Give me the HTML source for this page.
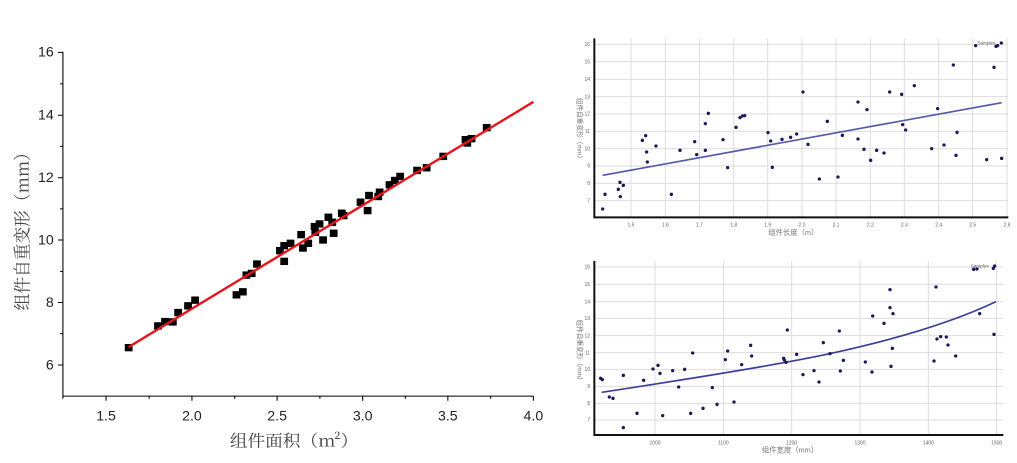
<!DOCTYPE html>
<html><head><meta charset="utf-8"><style>
body{margin:0;width:1017px;height:463px;background:#fff;overflow:hidden;position:relative;font-family:"Liberation Sans","Noto Sans CJK SC",sans-serif}
svg{position:absolute}
</style></head><body>
<svg style="left:0;top:30px" width="550" height="433" viewBox="8 0 1556 1295" preserveAspectRatio="none">
<g stroke="#000" stroke-width="3" fill="none">
<path d="M186 65V1095H1517"/>
<path d="M186 67h-14M186 255h-14M186 442h-14M186 628h-14M186 815h-14M186 1002h-14M186 161h-8M186 348h-8M186 535h-8M186 722h-8M186 908h-8"/>
<path d="M308 1095v14M551 1095v14M792 1095v14M1034 1095v14M1275 1095v14M1517 1095v14M186 1095v8M430 1095v8M672 1095v8M913 1095v8M1155 1095v8M1396 1095v8"/>
</g>
<g font-size="40" fill="#222" text-anchor="end">
<text x="160" y="80">16</text><text x="160" y="268">14</text><text x="160" y="455">12</text><text x="160" y="641">10</text><text x="160" y="828">8</text><text x="160" y="1015">6</text>
</g>
<g font-size="40" fill="#222" text-anchor="middle">
<text x="308" y="1168">1.5</text><text x="551" y="1168">2.0</text><text x="792" y="1168">2.5</text><text x="1034" y="1168">3.0</text><text x="1275" y="1168">3.5</text><text x="1517" y="1168">4.0</text>
</g>
<text x="840" y="1245" font-size="50" fill="#444" text-anchor="middle" font-family="Noto Serif CJK SC,serif">组件面积（m²）</text>
<text transform="translate(88,590) rotate(-90)" font-size="50" fill="#444" text-anchor="middle" font-family="Noto Serif CJK SC,serif">组件自重变形（mm）</text>
<g fill="#000">
<rect x="361" y="939" width="22" height="22"/><rect x="444" y="874" width="22" height="22"/><rect x="464" y="861" width="22" height="22"/><rect x="486" y="862" width="22" height="22"/><rect x="501" y="834" width="22" height="22"/><rect x="529" y="814" width="22" height="22"/><rect x="549" y="797" width="22" height="22"/><rect x="666" y="781" width="22" height="22"/><rect x="684" y="772" width="22" height="22"/><rect x="694" y="722" width="22" height="22"/><rect x="709" y="717" width="22" height="22"/><rect x="724" y="689" width="22" height="22"/><rect x="789" y="649" width="22" height="22"/><rect x="801" y="634" width="22" height="22"/><rect x="801" y="681" width="22" height="22"/><rect x="819" y="627" width="22" height="22"/><rect x="849" y="601" width="22" height="22"/><rect x="854" y="641" width="22" height="22"/><rect x="869" y="627" width="22" height="22"/><rect x="887" y="577" width="22" height="22"/><rect x="889" y="594" width="22" height="22"/><rect x="901" y="569" width="22" height="22"/><rect x="911" y="617" width="22" height="22"/><rect x="926" y="549" width="22" height="22"/><rect x="937" y="564" width="22" height="22"/><rect x="941" y="597" width="22" height="22"/><rect x="964" y="537" width="22" height="22"/><rect x="969" y="544" width="22" height="22"/><rect x="1017" y="504" width="22" height="22"/><rect x="1037" y="529" width="22" height="22"/><rect x="1041" y="484" width="22" height="22"/><rect x="1067" y="487" width="22" height="22"/><rect x="1071" y="474" width="22" height="22"/><rect x="1099" y="452" width="22" height="22"/><rect x="1114" y="439" width="22" height="22"/><rect x="1129" y="427" width="22" height="22"/><rect x="1177" y="409" width="22" height="22"/><rect x="1204" y="401" width="22" height="22"/><rect x="1251" y="367" width="22" height="22"/><rect x="1314" y="317" width="22" height="22"/><rect x="1319" y="327" width="22" height="22"/><rect x="1331" y="314" width="22" height="22"/><rect x="1374" y="281" width="22" height="22"/>
</g>
<line x1="372" y1="948" x2="1517" y2="215" stroke="#e8141a" stroke-width="7"/>
</svg>

<svg style="left:560px;top:30px" width="457" height="215" viewBox="0 0 1371 645">
<g stroke="#ddd" stroke-width="3">
<path d="M103 43H1345M103 95H1345M103 148H1345M103 200H1345M103 252H1345M103 304H1345M103 356H1345M103 408H1345M103 460H1345M103 512H1345"/>
<path d="M213 25V562M316 25V562M418 25V562M521 25V562M623 25V562M726 25V562M828 25V562M931 25V562M1033 25V562M1136 25V562M1238 25V562M1341 25V562"/>
</g>
<path d="M103 25V562H1345" stroke="#111" stroke-width="6" fill="none"/>
<g font-size="15" fill="#666" text-anchor="end">
<text x="90" y="48">16</text><text x="90" y="100">15</text><text x="90" y="153">14</text><text x="90" y="205">13</text><text x="90" y="257">12</text><text x="90" y="309">11</text><text x="90" y="361">10</text><text x="90" y="413">9</text><text x="90" y="465">8</text><text x="90" y="517">7</text>
</g>
<g font-size="15" fill="#666" text-anchor="middle">
<text x="213" y="590">1.5</text><text x="316" y="590">1.6</text><text x="418" y="590">1.7</text><text x="521" y="590">1.8</text><text x="623" y="590">1.9</text><text x="726" y="590">2.0</text><text x="828" y="590">2.1</text><text x="931" y="590">2.2</text><text x="1033" y="590">2.3</text><text x="1136" y="590">2.4</text><text x="1238" y="590">2.5</text><text x="1341" y="590">2.6</text>
</g>
<text x="700" y="615" font-size="22" fill="#777" text-anchor="middle">组件长度（m）</text>
<text transform="translate(52,300) rotate(90)" font-size="20" fill="#777" text-anchor="middle">组件自重变形（mm）</text>
<text x="1252" y="44" font-size="14" fill="#555">Samples</text>
<line x1="128" y1="436" x2="1325" y2="218" stroke="#5558a8" stroke-width="5"/>
<g fill="#1a1a5a">
<circle cx="128" cy="537" r="5"/><circle cx="135" cy="493" r="5"/><circle cx="180" cy="457" r="5"/><circle cx="175" cy="478" r="5"/><circle cx="181" cy="500" r="5"/><circle cx="190" cy="466" r="5"/><circle cx="247" cy="331" r="5"/><circle cx="257" cy="317" r="5"/><circle cx="260" cy="366" r="5"/><circle cx="262" cy="396" r="5"/><circle cx="288" cy="348" r="5"/><circle cx="334" cy="493" r="5"/><circle cx="360" cy="361" r="5"/><circle cx="404" cy="335" r="5"/><circle cx="410" cy="374" r="5"/><circle cx="436" cy="281" r="5"/><circle cx="436" cy="361" r="5"/><circle cx="445" cy="250" r="5"/><circle cx="489" cy="329" r="5"/><circle cx="503" cy="413" r="5"/><circle cx="528" cy="292" r="5"/><circle cx="540" cy="263" r="5"/><circle cx="547" cy="258" r="5"/><circle cx="554" cy="257" r="5"/><circle cx="624" cy="308" r="5"/><circle cx="632" cy="333" r="5"/><circle cx="637" cy="412" r="5"/><circle cx="666" cy="328" r="5"/><circle cx="692" cy="322" r="5"/><circle cx="710" cy="312" r="5"/><circle cx="729" cy="186" r="5"/><circle cx="744" cy="343" r="5"/><circle cx="778" cy="447" r="5"/><circle cx="802" cy="274" r="5"/><circle cx="834" cy="441" r="5"/><circle cx="847" cy="316" r="5"/><circle cx="894" cy="216" r="5"/><circle cx="894" cy="327" r="5"/><circle cx="912" cy="358" r="5"/><circle cx="921" cy="239" r="5"/><circle cx="932" cy="391" r="5"/><circle cx="950" cy="361" r="5"/><circle cx="972" cy="369" r="5"/><circle cx="989" cy="186" r="5"/><circle cx="1025" cy="193" r="5"/><circle cx="1028" cy="284" r="5"/><circle cx="1037" cy="300" r="5"/><circle cx="1063" cy="167" r="5"/><circle cx="1115" cy="356" r="5"/><circle cx="1133" cy="236" r="5"/><circle cx="1152" cy="345" r="5"/><circle cx="1180" cy="105" r="5"/><circle cx="1188" cy="376" r="5"/><circle cx="1191" cy="307" r="5"/><circle cx="1247" cy="47" r="5"/><circle cx="1280" cy="389" r="5"/><circle cx="1302" cy="112" r="5"/><circle cx="1308" cy="49" r="5"/><circle cx="1313" cy="47" r="5"/><circle cx="1324" cy="39" r="5"/><circle cx="1325" cy="385" r="5"/>
</g>
</svg>

<svg style="left:560px;top:255px" width="457" height="208" viewBox="0 0 1371 624">
<g stroke="#ddd" stroke-width="3">
<path d="M103 36H1330M103 88H1330M103 140H1330M103 190H1330M103 242H1330M103 293H1330M103 343H1330M103 394H1330M103 445H1330M103 495H1330"/>
<path d="M285 18V540M490 18V540M695 18V540M900 18V540M1105 18V540M1310 18V540"/>
</g>
<path d="M103 18V540H1330" stroke="#111" stroke-width="6" fill="none"/>
<g font-size="15" fill="#666" text-anchor="end">
<text x="90" y="41">16</text><text x="90" y="93">15</text><text x="90" y="145">14</text><text x="90" y="195">13</text><text x="90" y="247">12</text><text x="90" y="298">11</text><text x="90" y="348">10</text><text x="90" y="399">9</text><text x="90" y="450">8</text><text x="90" y="500">7</text>
</g>
<g font-size="15" fill="#666" text-anchor="middle">
<text x="285" y="568">1000</text><text x="490" y="568">1100</text><text x="695" y="568">1200</text><text x="900" y="568">1300</text><text x="1105" y="568">1400</text><text x="1310" y="568">1500</text>
</g>
<text x="690" y="592" font-size="22" fill="#777" text-anchor="middle">组件宽度（mm）</text>
<text transform="translate(52,290) rotate(90)" font-size="20" fill="#777" text-anchor="middle">组件自重变形（mm）</text>
<text x="1232" y="37" font-size="14" fill="#555">Samples</text>
<path d="M125 412C400 370 650 330 800 298S1150 215 1308 140" stroke="#3c3f98" stroke-width="5" fill="none"/>
<g fill="#1a1a5a">
<circle cx="122" cy="370" r="5"/><circle cx="127" cy="374" r="5"/><circle cx="148" cy="426" r="5"/><circle cx="159" cy="430" r="5"/><circle cx="190" cy="361" r="5"/><circle cx="190" cy="518" r="5"/><circle cx="231" cy="475" r="5"/><circle cx="251" cy="376" r="5"/><circle cx="279" cy="342" r="5"/><circle cx="294" cy="331" r="5"/><circle cx="300" cy="355" r="5"/><circle cx="308" cy="482" r="5"/><circle cx="338" cy="347" r="5"/><circle cx="356" cy="396" r="5"/><circle cx="374" cy="343" r="5"/><circle cx="392" cy="475" r="5"/><circle cx="398" cy="294" r="5"/><circle cx="429" cy="460" r="5"/><circle cx="457" cy="398" r="5"/><circle cx="471" cy="448" r="5"/><circle cx="496" cy="314" r="5"/><circle cx="503" cy="288" r="5"/><circle cx="522" cy="441" r="5"/><circle cx="545" cy="329" r="5"/><circle cx="572" cy="271" r="5"/><circle cx="575" cy="303" r="5"/><circle cx="671" cy="310" r="5"/><circle cx="673" cy="315" r="5"/><circle cx="678" cy="322" r="5"/><circle cx="682" cy="225" r="5"/><circle cx="710" cy="298" r="5"/><circle cx="729" cy="359" r="5"/><circle cx="762" cy="347" r="5"/><circle cx="777" cy="381" r="5"/><circle cx="790" cy="263" r="5"/><circle cx="810" cy="296" r="5"/><circle cx="838" cy="228" r="5"/><circle cx="841" cy="348" r="5"/><circle cx="850" cy="316" r="5"/><circle cx="916" cy="321" r="5"/><circle cx="936" cy="351" r="5"/><circle cx="938" cy="183" r="5"/><circle cx="972" cy="205" r="5"/><circle cx="990" cy="104" r="5"/><circle cx="990" cy="158" r="5"/><circle cx="993" cy="334" r="5"/><circle cx="997" cy="280" r="5"/><circle cx="999" cy="176" r="5"/><circle cx="1122" cy="318" r="5"/><circle cx="1128" cy="96" r="5"/><circle cx="1131" cy="252" r="5"/><circle cx="1142" cy="245" r="5"/><circle cx="1159" cy="246" r="5"/><circle cx="1164" cy="270" r="5"/><circle cx="1187" cy="303" r="5"/><circle cx="1241" cy="43" r="5"/><circle cx="1251" cy="42" r="5"/><circle cx="1259" cy="176" r="5"/><circle cx="1300" cy="40" r="5"/><circle cx="1302" cy="238" r="5"/><circle cx="1304" cy="33" r="5"/>
</g>
</svg>
</body></html>
